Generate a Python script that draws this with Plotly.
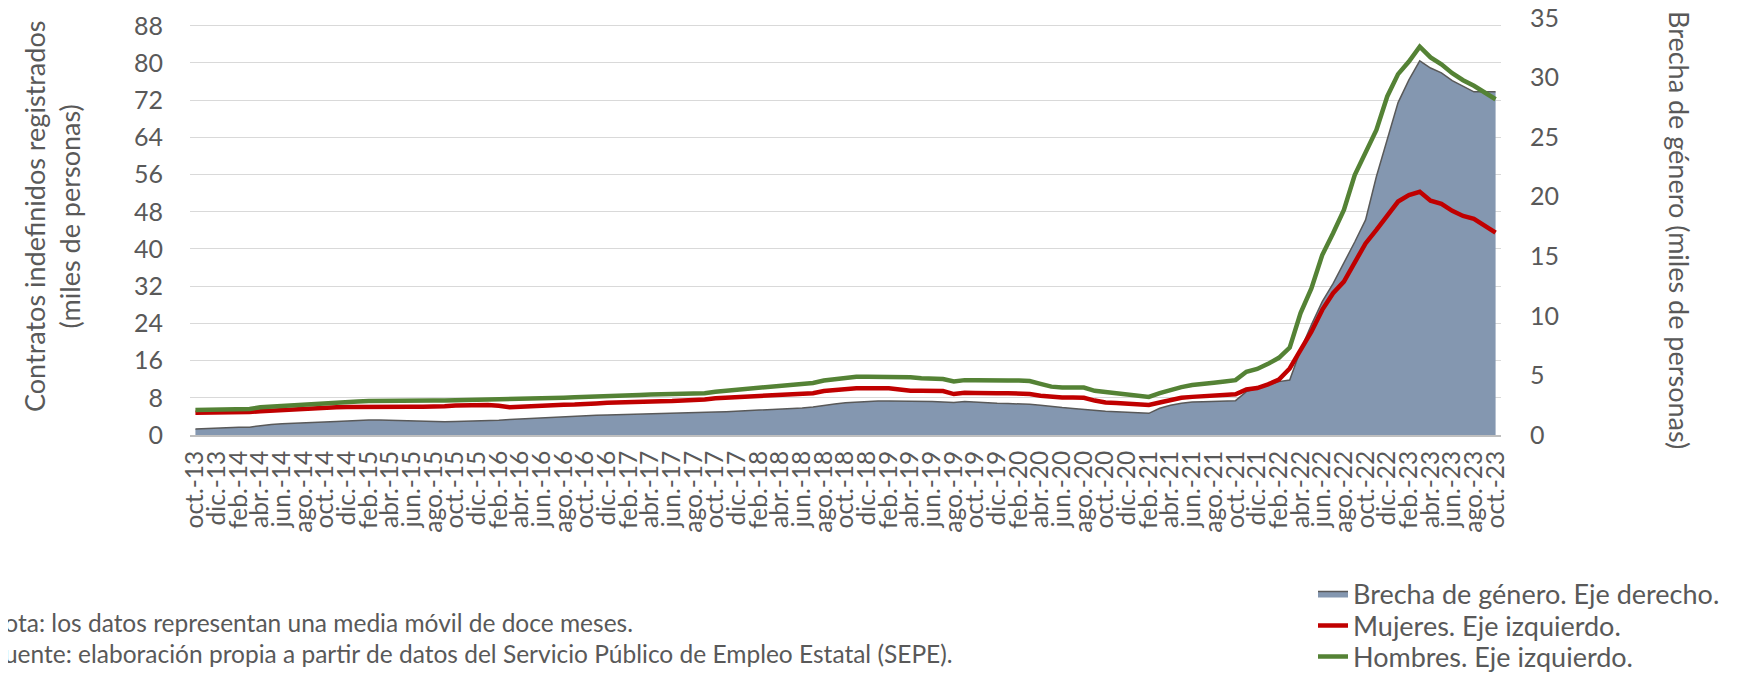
import plotly.graph_objects as go

# ---------------- data ----------------
MES_ABR = ["ene.", "feb.", "mar.", "abr.", "may.", "jun.", "jul.", "ago.", "sep.", "oct.", "nov.", "dic."]
meses = [f"{MES_ABR[(9 + k) % 12]}-{(13 + (9 + k) // 12):02d}" for k in range(121)]  # oct.-13 ... oct.-23
etiquetas_x = meses[::2]

hombres = [
    5.4, 5.4, 5.4, 5.4, 5.45, 5.6, 5.95, 6.1, 6.3, 6.5,
    6.6, 6.7, 6.9, 7.0, 7.1, 7.2, 7.3, 7.35, 7.4, 7.4,
    7.4, 7.4, 7.4, 7.4, 7.45, 7.5, 7.6, 7.65, 7.6, 7.6,
    7.6, 7.7, 7.8, 7.9, 8.0, 8.1, 8.15, 8.25, 8.35, 8.4,
    8.5, 8.6, 8.7, 8.75, 8.75, 8.75, 8.8, 9.0, 9.3, 9.5,
    9.7, 9.9, 10.1, 10.3, 10.45, 10.6, 10.9, 11.2, 11.7, 12.0,
    12.4, 12.5, 12.5, 12.5, 12.5, 12.5, 12.4, 12.2, 12.1, 12.05,
    11.5, 11.8, 11.8, 11.7, 11.7, 11.7, 11.7, 11.6, 11.0, 10.4,
    10.2, 10.2, 10.2, 9.5, 9.25, 8.9, 8.6, 8.3, 8.2, 9.0,
    9.7, 10.3, 10.75, 11.1, 11.25, 11.5, 11.8, 13.6, 14.2, 15.3,
    16.6, 18.8, 26.2, 31.5, 38.7, 43.4, 48.4, 55.9, 60.9, 65.6,
    72.8, 77.6, 80.3, 83.5, 81.2, 79.7, 77.8, 76.3, 75.1, 73.6,
    72.2,
]

mujeres = [
    4.8, 4.8, 4.8, 4.8, 4.85, 4.95, 5.1, 5.25, 5.4, 5.5,
    5.6, 5.75, 5.85, 5.95, 6.0, 6.05, 6.1, 6.1, 6.1, 6.1,
    6.1, 6.1, 6.1, 6.2, 6.35, 6.45, 6.45, 6.45, 6.3, 5.95,
    6.1, 6.25, 6.35, 6.45, 6.5, 6.55, 6.6, 6.8, 6.95, 7.05,
    7.1, 7.15, 7.2, 7.25, 7.3, 7.35, 7.4, 7.65, 7.9, 8.0,
    8.15, 8.25, 8.35, 8.45, 8.6, 8.7, 8.85, 9.0, 9.45, 9.7,
    9.95, 10.05, 10.05, 10.05, 10.05, 9.8, 9.5, 9.5, 9.5, 9.45,
    8.8, 9.1, 9.05, 8.95, 9.0, 9.0, 9.0, 8.8, 8.45, 8.2,
    8.05, 8.05, 8.0, 7.4, 7.0, 6.9, 6.7, 6.6, 6.45, 7.0,
    7.5, 8.0, 8.2, 8.3, 8.45, 8.6, 8.75, 9.8, 10.1, 10.9,
    11.9, 14.3, 18.3, 22.2, 26.9, 30.5, 33.0, 36.9, 41.2, 44.1,
    47.3, 50.2, 51.6, 52.3, 50.4, 49.7, 48.2, 47.1, 46.5, 44.9,
    43.5,
]

brecha = [
    0.5, 0.55, 0.6, 0.62, 0.64, 0.66, 0.8, 0.88, 0.95, 1.0,
    1.03, 1.06, 1.1, 1.14, 1.18, 1.23, 1.26, 1.25, 1.22, 1.2,
    1.17, 1.14, 1.12, 1.12, 1.13, 1.15, 1.17, 1.2, 1.24, 1.3,
    1.35, 1.4, 1.45, 1.5, 1.55, 1.6, 1.62, 1.65, 1.68, 1.7,
    1.72, 1.74, 1.76, 1.77, 1.8, 1.83, 1.86, 1.9, 1.93, 1.96,
    2.0, 2.04, 2.08, 2.12, 2.17, 2.22, 2.27, 2.35, 2.5, 2.6,
    2.7, 2.77, 2.83, 2.85, 2.85, 2.85, 2.85, 2.83, 2.82, 2.78,
    2.72, 2.82, 2.75, 2.68, 2.66, 2.64, 2.62, 2.58, 2.5, 2.38,
    2.3, 2.22, 2.14, 2.05, 2.0, 1.96, 1.9, 1.85, 1.82, 2.24,
    2.49, 2.66, 2.77, 2.8, 2.83, 2.85, 2.88, 3.64, 3.92, 4.2,
    4.48, 4.62, 7.14, 9.24, 11.2, 12.7, 14.4, 16.2, 18.05, 21.7,
    24.8, 27.9, 29.8, 31.4, 30.8, 30.4, 29.75, 29.3, 28.8, 28.8,
    28.8,
]

ticks_izq = list(range(0, 89, 8))
ticks_der = list(range(0, 36, 5))

# ---------------- figure ----------------
FONT = "Lato"
GRIS = "#595959"
W, H = 1737, 677
OFF = 8  # default page body margin of the html page
# target page pixels of the plot area -> figure pixels
P_LEFT, P_RIGHT, P_TOP, P_BOTTOM = 190, 1501, 18, 435
ML = P_LEFT - OFF
MR = W - (P_RIGHT - OFF)
MT = P_TOP - OFF
MB = H - (P_BOTTOM - OFF)
PW = W - ML - MR
PH = H - MT - MB


def px_x(p):  # page pixel -> paper x
    return (p - OFF - ML) / PW


def px_y(p):  # page pixel -> paper y
    return (H - MB - (p - OFF)) / PH


def cx(p):  # page pixel -> container x
    return (p - OFF) / W


def cy(p):  # page pixel -> container y
    return 1 - (p - OFF) / H


fig = go.Figure()

fig.add_trace(go.Scatter(
    x=meses, y=brecha, name="Brecha de género. Eje derecho.",
    mode="lines", fill="tozeroy", fillcolor="#8497B0",
    line=dict(color="#595959", width=1.5), yaxis="y", legend="legend",
))
fig.add_trace(go.Scatter(
    x=meses, y=mujeres, name="Mujeres. Eje izquierdo.",
    mode="lines", line=dict(color="#C00000", width=4.5), yaxis="y2", legend="legend2",
))
fig.add_trace(go.Scatter(
    x=meses, y=hombres, name="Hombres. Eje izquierdo.",
    mode="lines", line=dict(color="#548235", width=4.5), yaxis="y2", legend="legend3",
))


def leg(py):
    return dict(
        xref="container", yref="container",
        x=cx(1313), xanchor="left", y=cy(py), yanchor="middle",
        font=dict(size=27, color=GRIS), bgcolor="rgba(0,0,0,0)",
    )


fig.update_layout(
    width=W, height=H,
    margin=dict(l=ML, r=MR, t=MT, b=MB, autoexpand=False),
    paper_bgcolor="white", plot_bgcolor="white",
    font=dict(family=FONT, color=GRIS, size=24),
    showlegend=True,
    legend=leg(594), legend2=leg(626), legend3=leg(657),
    xaxis=dict(
        type="category", range=[-0.5, 120.5], automargin=False,
        tickmode="array", tickvals=etiquetas_x, ticktext=etiquetas_x,
        tickangle=-90, tickfont=dict(size=24.5, color=GRIS),
        showgrid=False, zeroline=False,
        showline=True, linecolor="#BFBFBF", linewidth=2,
        ticks="", ticklabelstandoff=4, ticklabeloverflow="allow",
    ),
    yaxis=dict(
        side="right", range=[0, 35], tickmode="array", tickvals=ticks_der,
        showgrid=False, zeroline=False, showline=False, automargin=False,
        tickfont=dict(size=25, color=GRIS), ticks="", ticklabelstandoff=28,
        ticklabeloverflow="allow",
    ),
    yaxis2=dict(
        overlaying="y", side="left", range=[0, 89.67], automargin=False,
        tickmode="array", tickvals=ticks_izq,
        showgrid=True, gridcolor="#D9D9D9", gridwidth=1,
        zeroline=False, showline=False,
        tickfont=dict(size=25, color=GRIS), ticks="", ticklabelstandoff=26,
        ticklabeloverflow="allow",
    ),
    annotations=[
        dict(text="Contratos indefinidos registrados<br>(miles de personas)",
             xref="paper", yref="paper", x=px_x(52), y=px_y(217),
             xanchor="center", yanchor="middle", textangle=-90, showarrow=False,
             font=dict(size=27, color=GRIS)),
        dict(text="Brecha de género (miles de personas)",
             xref="paper", yref="paper", x=px_x(1679), y=px_y(230),
             xanchor="center", yanchor="middle", textangle=90, showarrow=False,
             font=dict(size=27, color=GRIS)),
        dict(text="Nota: los datos representan una media móvil de doce meses.",
             xref="paper", yref="paper", x=px_x(-16), y=px_y(623),
             xanchor="left", yanchor="middle", showarrow=False,
             font=dict(size=24.5, color=GRIS)),
        dict(text="Fuente: elaboración propia a partir de datos del Servicio Público de Empleo Estatal (SEPE).",
             xref="paper", yref="paper", x=px_x(-11), y=px_y(654),
             xanchor="left", yanchor="middle", showarrow=False,
             font=dict(size=24.5, color=GRIS)),
    ],
)

fig.write_html("out.html")
